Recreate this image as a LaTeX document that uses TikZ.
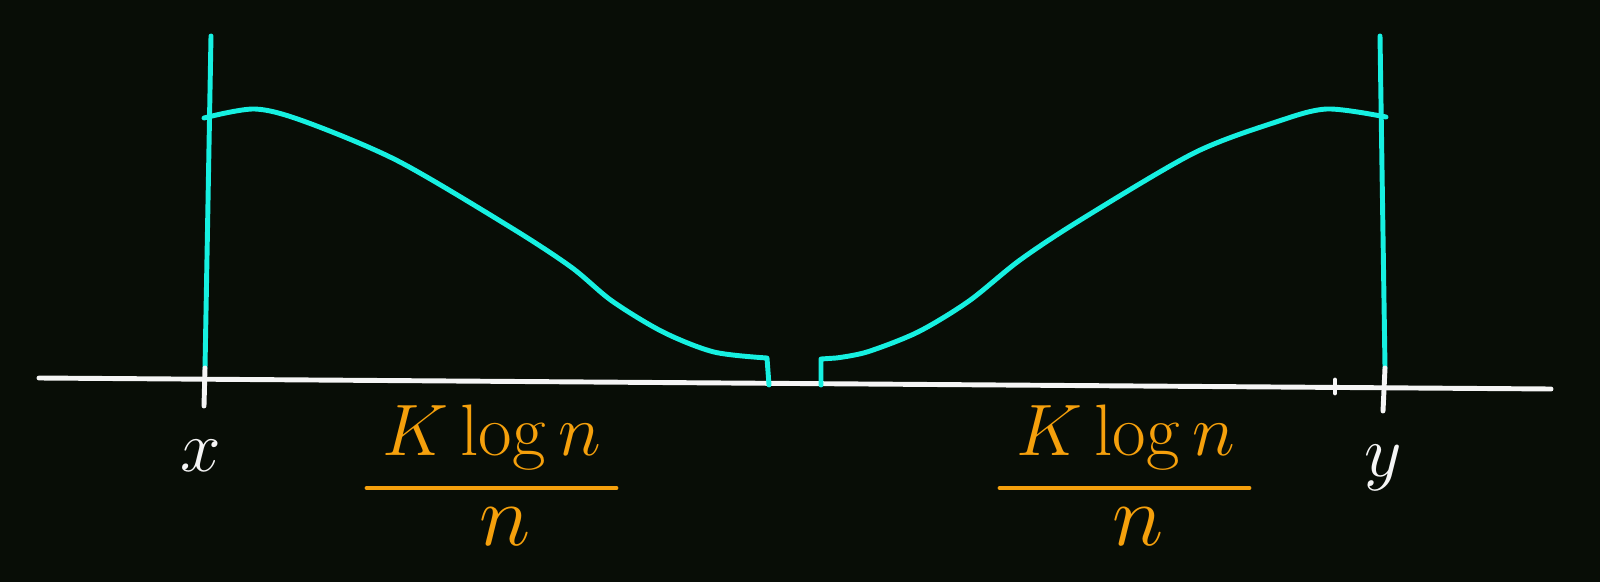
\documentclass[tikz,border=0pt]{standalone}
\usepackage{xcolor}
\definecolor{board}{RGB}{8,13,6}
\definecolor{chalkcyan}{RGB}{22,240,225}
\definecolor{chalkorange}{RGB}{245,160,12}
\definecolor{chalkwhite}{RGB}{245,245,245}

\begin{document}
\begin{tikzpicture}[
  x=0.01cm, y=-0.01cm,
  line cap=round, line join=round,
  axis/.style={draw=chalkwhite, line width=1.4pt},
  wave/.style={draw=chalkcyan, line width=1.4pt},
  bar/.style={draw=chalkorange, line width=1.4pt},
  endpt/.style={text=chalkwhite, font=\fontsize{22}{26}\selectfont, inner sep=0pt},
  frac/.style={text=chalkorange, font=\fontsize{20}{24}\selectfont, inner sep=0pt}
]

  % Fondo de la pizarra
  \fill[board] (0,0) rectangle (1600,582);
  \useasboundingbox (0,0) rectangle (1600,582);

  % Eje horizontal
  \coordinate (e0) at (39,378);
  \coordinate (e1) at (1551,389);
  \draw[axis] (e0) -- (e1);

  % Verticales en x e y
  \coordinate (xt) at (211,36);
  \coordinate (xm) at (205,368);
  \coordinate (xb) at (204,406);
  \coordinate (yt) at (1380,36);
  \coordinate (ym) at (1385,368);
  \coordinate (yb) at (1383,411);
  \draw[wave] (xt) -- (xm);
  \draw[wave] (yt) -- (ym);
  \draw[axis] (xm) -- (xb);
  \draw[axis] (ym) -- (yb);

  % Marca cerca de y
  \coordinate (m0) at (1335,380);
  \coordinate (m1) at (1335,393);
  \draw[axis] (m0) -- (m1);

  % Curvas de densidad
  \draw[wave] plot[smooth] coordinates {(204,118) (255,109) (306,122) (398,161) (510,227) (571,267) (612,301) (663,332) (714,352) (767,358)} -- (769,385);
  \draw[wave] (821,385) -- (821,359) -- plot[smooth] coordinates {(836,358) (867,352) (918,332) (969,301) (1020,260) (1082,219) (1194,153) (1276,122) (1327,109) (1386,117)};

  % Etiquetas de los extremos
  \node[endpt] (x) at (201,456) {$x$};
  \node[endpt] (y) at (1383,468) {$y$};

  % Fracciones K log n / n
  \node[frac, anchor=base] (num1) at (492,455) {$K\log n$};
  \node[frac, font=\fontsize{24}{28}\selectfont] (den1) at (505,527) {$n$};
  \coordinate (b1l) at (367,488);
  \coordinate (b1r) at (616,488);
  \draw[bar] (b1l) -- (b1r);

  \node[frac, anchor=base] (num2) at (1126,455) {$K\log n$};
  \node[frac, font=\fontsize{24}{28}\selectfont] (den2) at (1138,527) {$n$};
  \coordinate (b2l) at (1000,488);
  \coordinate (b2r) at (1249,488);
  \draw[bar] (b2l) -- (b2r);

\end{tikzpicture}
\end{document}
